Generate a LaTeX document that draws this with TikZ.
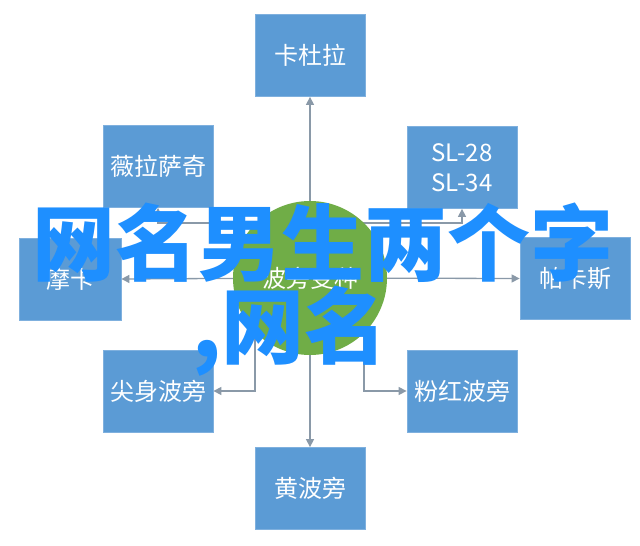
\documentclass[tikz,border=0pt]{standalone}
\usepackage{fontspec}
\setmainfont{Noto Sans CJK SC}
\usetikzlibrary{arrows.meta,backgrounds}
\definecolor{boxblue}{HTML}{5B9BD5}
\definecolor{boxedge}{HTML}{7FB0DE}
\definecolor{leafgreen}{HTML}{70AD47}
\definecolor{conngray}{HTML}{8A99A8}
\definecolor{titleblue}{HTML}{1E8FFF}
\begin{document}
\begin{tikzpicture}[x=1pt,y=-1pt,
  box/.style={rectangle, fill=boxblue, draw=boxedge, line width=0.8pt,
    minimum width=110pt, minimum height=82pt, inner sep=0pt, text=white,
    font=\fontsize{24pt}{30pt}\selectfont, align=center},
  hub/.style={circle, fill=leafgreen, minimum size=154pt, inner sep=0pt,
    text=white, font=\fontsize{24pt}{30pt}\selectfont},
  conn/.style={draw=conngray, line width=1.3pt, -{Triangle[length=8pt,width=8pt]}},
  title/.style={inner sep=0pt, text=titleblue,
    font=\bfseries\fontsize{83pt}{83pt}\selectfont}]
\useasboundingbox (0,0) rectangle (640,546);

\node[box] (kdl) at (310,55.5) {卡杜拉};
\node[box] (wlsq) at (158,166.5) {薇拉萨奇};
\node[box] (sl) at (462,167.5) {SL-28\\SL-34};
\node[box, minimum width=102pt] (moka) at (70,279) {摩卡};
\node[box] (pks) at (575,278.5) {帕卡斯};
\node[box] (jsbp) at (158,391) {尖身波旁};
\node[box] (fhbp) at (462,391) {粉红波旁};
\node[box] (hbp) at (310,488.5) {黄波旁};
\node[hub] (c) at (310,278) {波旁变种};

\begin{pgfonlayer}{background}
\fill[white] (0,0) rectangle (640,546);
\draw[conn] (c.center) -- (kdl.south);
\draw[conn] ([yshift=55pt]c.center) -| (wlsq.south);
\draw[conn] ([yshift=55pt]c.center) -| (sl.south);
\draw[conn] (c.center) -- (moka.east);
\draw[conn] (c.center) -- (pks.west);
\draw[conn] ([xshift=-55pt]c.center) |- (jsbp.east);
\draw[conn] ([xshift=54pt]c.center) |- (fhbp.west);
\draw[conn] (c.center) -- (hbp.north);
\end{pgfonlayer}

\node[title, anchor=base west] (t1) at (32,274) {网名男生两个字};
\node[title, anchor=base east] (t2) at (388,357) {,网名};
\end{tikzpicture}
\end{document}
